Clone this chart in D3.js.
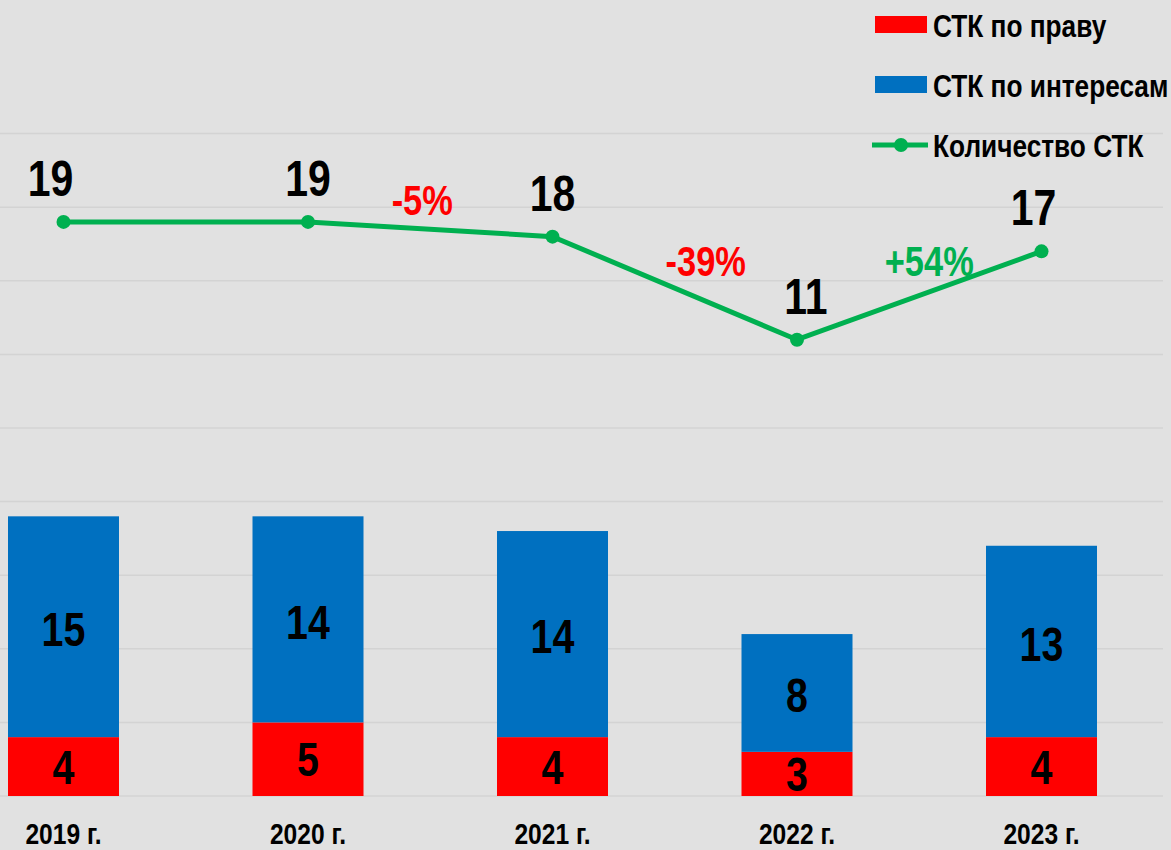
<!DOCTYPE html>
<html>
<head>
<meta charset="utf-8">
<script src="https://cdn.jsdelivr.net/npm/d3@7"></script>
<style>
  body { margin: 0; background: #e1e1e1; }
  text { font-family: "Liberation Sans", Arial, sans-serif; font-weight: bold; }
</style>
</head>
<body>
<div id="chart"></div>
<script>
// data
var years = ["2019 г.", "2020 г.", "2021 г.", "2022 г.", "2023 г."];
var stkPravo = [4, 5, 4, 3, 4];
var stkInteres = [15, 14, 14, 8, 13];
var stkTotal = [19, 19, 18, 11, 17];
var changes = [null, null, "-5%", "-39%", "+54%"];
var changeColors = [null, null, "#ff0000", "#ff0000", "#00b050"];

var width = 1171, height = 850;
var narrow = 0.82; // squeeze to look like Arial Narrow

// place text at (px,py) squeezed horizontally
function at(px, py) {
  return "translate(" + px + "," + py + ") scale(" + narrow + ",1)";
}

var svg = d3.select("#chart")
  .append("svg")
    .attr("width", width)
    .attr("height", height);

svg.append("rect")
  .attr("width", width).attr("height", height)
  .attr("fill", "#e1e1e1");

// scales
var x = d3.scaleBand()
  .domain(years)
  .range([-58.75, 1163.75])
  .paddingInner(0.546)
  .paddingOuter(0.273);

var y = d3.scaleLinear()
  .domain([0, 45])
  .range([796, 133.6]);

// secondary axis for the line, shifted up
var y2 = d3.scaleLinear()
  .domain([-20, 25])
  .range([796, 133.6]);

// gridlines
svg.append("g")
  .selectAll("line")
  .data(d3.range(0, 46, 5))
  .enter()
  .append("line")
    .attr("x1", 0).attr("x2", 1163)
    .attr("y1", d => y(d)).attr("y2", d => y(d))
    .attr("stroke", "#d3d3d3")
    .attr("stroke-width", 1.5);

// stacked bars
var rows = years.map((yr, i) => ({year: yr, a: stkPravo[i], b: stkInteres[i], t: stkTotal[i], i: i}));
var cx = d => x(d.year) + x.bandwidth() / 2;

var bars = svg.append("g");
bars.selectAll(".red")
  .data(rows).enter()
  .append("rect")
    .attr("x", d => x(d.year))
    .attr("width", x.bandwidth())
    .attr("y", d => y(d.a))
    .attr("height", d => y(0) - y(d.a))
    .attr("fill", "#ff0000");

bars.selectAll(".blue")
  .data(rows).enter()
  .append("rect")
    .attr("x", d => x(d.year))
    .attr("width", x.bandwidth())
    .attr("y", d => y(d.a + d.b))
    .attr("height", d => y(d.a) - y(d.a + d.b))
    .attr("fill", "#0070c0");

// bar labels
bars.selectAll(".lblA")
  .data(rows).enter()
  .append("text")
    .attr("transform", d => at(cx(d), (y(0) + y(d.a)) / 2))
    .attr("dy", "0.36em")
    .attr("text-anchor", "middle")
    .attr("font-size", 48)
    .text(d => d.a);

bars.selectAll(".lblB")
  .data(rows).enter()
  .append("text")
    .attr("transform", d => at(cx(d), (y(d.a) + y(d.a + d.b)) / 2))
    .attr("dy", "0.4em")
    .attr("text-anchor", "middle")
    .attr("font-size", 48)
    .text(d => d.b);

// x labels
svg.append("g")
  .selectAll("text")
  .data(rows).enter()
  .append("text")
    .attr("transform", d => at(cx(d), 844))
    .attr("text-anchor", "middle")
    .attr("font-size", 30)
    .text(d => d.year);

// line
var line = d3.line()
  .x(cx)
  .y(d => y2(d.t));

svg.append("path")
  .datum(rows)
  .attr("d", line)
  .attr("fill", "none")
  .attr("stroke", "#00b050")
  .attr("stroke-width", 5);

svg.append("g")
  .selectAll("circle")
  .data(rows).enter()
  .append("circle")
    .attr("cx", cx)
    .attr("cy", d => y2(d.t))
    .attr("r", 7)
    .attr("fill", "#00b050");

var totalDx = [-13, 0, 0, 9, -8];
svg.append("g")
  .selectAll("text")
  .data(rows).enter()
  .append("text")
    .attr("transform", d => at(cx(d) + totalDx[d.i], y2(d.t) - 26))
    .attr("text-anchor", "middle")
    .attr("font-size", 50)
    .text(d => d.t);

// change labels
var changeDx = [0, 0, -8, 31, 10];
var changeY = [0, 0, 215, 276, 276];
svg.append("g")
  .selectAll("text")
  .data(rows.filter(d => changes[d.i])).enter()
  .append("text")
    .attr("transform", d => at((cx(rows[d.i - 1]) + cx(d)) / 2 + changeDx[d.i], changeY[d.i]))
    .attr("text-anchor", "middle")
    .attr("font-size", 42)
    .attr("fill", d => changeColors[d.i])
    .text(d => changes[d.i]);

// legend
var legend = svg.append("g").attr("transform", "translate(875,0)");
var legendItems = ["СТК по праву", "СТК по интересам", "Количество СТК"];
var legendColors = ["#ff0000", "#0070c0", "#00b050"];
legendItems.forEach(function (name, i) {
  var ly = 25 + i * 60;
  if (i < 2) {
    legend.append("rect")
      .attr("x", 0).attr("y", ly - 9)
      .attr("width", 52).attr("height", 17)
      .attr("fill", legendColors[i]);
  } else {
    legend.append("line")
      .attr("x1", -3).attr("x2", 53)
      .attr("y1", ly).attr("y2", ly)
      .attr("stroke", legendColors[i])
      .attr("stroke-width", 5);
    legend.append("circle")
      .attr("cx", 26).attr("cy", ly).attr("r", 7)
      .attr("fill", legendColors[i]);
  }
  legend.append("text")
    .attr("transform", at(58, ly))
    .attr("dy", "0.36em")
    .attr("font-size", 32)
    .text(name);
});
</script>
</body>
</html>
